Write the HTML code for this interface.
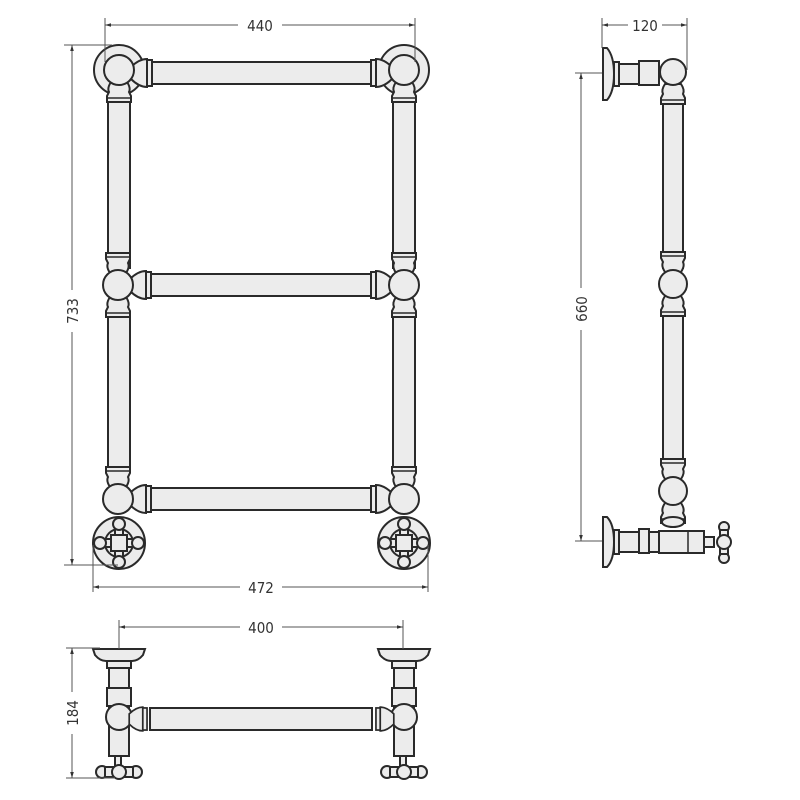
<!DOCTYPE html>
<html><head><meta charset="utf-8"><style>
html,body{margin:0;padding:0;background:#fff}
svg{display:block}
text{font-family:"DejaVu Sans Condensed","Liberation Sans",sans-serif;font-size:15px;fill:#333}
.s{fill:#ececec;stroke:#2a2a2a;stroke-width:2}
.d{fill:none;stroke:#555;stroke-width:1}
</style></head><body>
<svg width="800" height="800" viewBox="0 0 800 800" xmlns="http://www.w3.org/2000/svg">
<defs>
<marker id="a" viewBox="0 0 10 10" refX="10" refY="5" markerWidth="8" markerHeight="6" orient="auto-start-reverse"><path d="M0,2 L10,5 L0,8z" fill="#333"/></marker>
<!-- joint: ball at origin, cone to right -->
<g id="cone">
<path class="s" d="M12,-6 Q20,-14 28,-14 L28,14 Q20,14 12,6z"/>
<rect class="s" x="28" y="-13" width="5" height="26"/>
</g>
<g id="collarT"><path class="s" d="M-8,-12 Q-12,-18 -10,-22 L-12,-26 L-12,-32 L12,-32 L12,-26 L10,-22 Q12,-18 8,-12z"/><line x1="-12" y1="-28" x2="12" y2="-28" stroke="#2a2a2a" stroke-width="1.5"/></g>
<g id="collarB"><use href="#collarT" transform="scale(1,-1)"/></g>
<g id="knob">
<circle class="s" cx="0" cy="0" r="26" stroke-width="2.5"/>
<circle class="s" cx="0" cy="0" r="14"/>
<rect class="s" x="-8" y="-8" width="16" height="16"/>
<rect class="s" x="-4" y="-16" width="8" height="8"/><rect class="s" x="-4" y="8" width="8" height="8"/>
<rect class="s" x="-16" y="-4" width="8" height="8"/><rect class="s" x="8" y="-4" width="8" height="8"/>
<circle class="s" cx="0" cy="-19" r="6"/><circle class="s" cx="0" cy="19" r="6"/>
<circle class="s" cx="-19" cy="0" r="6"/><circle class="s" cx="19" cy="0" r="6"/>
</g>
</defs>

<!-- FRONT VIEW -->
<!-- columns -->
<rect class="s" x="108" y="100" width="22" height="168"/>
<rect class="s" x="108" y="316" width="22" height="155"/>
<rect class="s" x="393" y="100" width="22" height="168"/>
<rect class="s" x="393" y="316" width="22" height="155"/>
<!-- bars -->
<rect class="s" x="150" y="62" width="222" height="22"/>
<rect class="s" x="150" y="274" width="222" height="22"/>
<rect class="s" x="150" y="488" width="222" height="22"/>
<!-- top corners -->
<circle class="s" cx="119" cy="70" r="25" stroke-width="2.5"/>
<circle class="s" cx="404" cy="70" r="25" stroke-width="2.5"/>
<use href="#cone" transform="translate(119,73)"/>
<use href="#cone" transform="translate(404,73) scale(-1,1)"/>
<use href="#collarB" transform="translate(119,70)"/>
<use href="#collarB" transform="translate(404,70)"/>
<circle class="s" cx="119" cy="70" r="15"/>
<circle class="s" cx="404" cy="70" r="15"/>
<!-- middle joints -->
<g transform="translate(118,285)"><use href="#cone"/><use href="#collarT"/><use href="#collarB"/><circle class="s" r="15"/></g>
<g transform="translate(404,285) scale(-1,1)"><use href="#cone"/><use href="#collarT"/><use href="#collarB"/><circle class="s" r="15"/></g>
<!-- bottom -->
<use href="#knob" transform="translate(119,543)"/>
<use href="#knob" transform="translate(404,543)"/>
<g transform="translate(118,499)"><use href="#cone"/><use href="#collarT"/><circle class="s" r="15"/></g>
<g transform="translate(404,499) scale(-1,1)"><use href="#cone"/><use href="#collarT"/><circle class="s" r="15"/></g>

<!-- dims front -->
<line class="d" x1="105" y1="18" x2="105" y2="62"/><line class="d" x1="415" y1="18" x2="415" y2="62"/>
<line class="d" x1="105" y1="25" x2="238" y2="25" marker-start="url(#a)"/><line class="d" x1="282" y1="25" x2="415" y2="25" marker-end="url(#a)"/>
<text x="260" y="31" text-anchor="middle">440</text>
<line class="d" x1="64" y1="45" x2="112" y2="45"/><line class="d" x1="64" y1="565" x2="118" y2="565"/>
<line class="d" x1="72" y1="45" x2="72" y2="290" marker-start="url(#a)"/><line class="d" x1="72" y1="332" x2="72" y2="565" marker-end="url(#a)"/>
<text transform="translate(78,311) rotate(-90)" text-anchor="middle">733</text>
<line class="d" x1="93" y1="545" x2="93" y2="592"/><line class="d" x1="428" y1="545" x2="428" y2="592"/>
<line class="d" x1="93" y1="587" x2="240" y2="587" marker-start="url(#a)"/><line class="d" x1="282" y1="587" x2="428" y2="587" marker-end="url(#a)"/>
<text x="261" y="593" text-anchor="middle">472</text>

<!-- SIDE VIEW -->
<rect class="s" x="663" y="100" width="20" height="168"/>
<rect class="s" x="663" y="314" width="20" height="155"/>
<path class="s" d="M603,48 L603,100 L607,100 Q614,92 614,74 Q614,56 607,48z"/>
<rect class="s" x="614" y="62" width="5" height="24"/>
<rect class="s" x="619" y="64" width="20" height="20"/>
<rect class="s" x="639" y="61" width="20" height="24"/>
<g transform="translate(673,72)"><use href="#collarB"/></g>
<circle class="s" cx="673" cy="72" r="13"/>
<g transform="translate(673,284)"><use href="#collarT"/><use href="#collarB"/><circle class="s" r="14"/></g>
<g transform="translate(673,491)"><use href="#collarT"/><use href="#collarB"/><circle class="s" r="14"/></g>
<path class="s" d="M603,517 L603,567 L607,567 Q614,560 614,542 Q614,524 607,517z"/>
<rect class="s" x="614" y="530" width="5" height="24"/>
<rect class="s" x="619" y="532" width="20" height="20"/>
<rect class="s" x="639" y="529" width="10" height="24"/>
<rect class="s" x="649" y="532" width="10" height="20"/>
<rect class="s" x="659" y="531" width="45" height="22"/>
<line x1="688" y1="531" x2="688" y2="553" stroke="#2a2a2a" stroke-width="1.5"/>
<ellipse class="s" cx="673" cy="522" rx="11" ry="5"/>
<rect class="s" x="704" y="537" width="10" height="10"/>
<circle class="s" cx="724" cy="527" r="5"/><circle class="s" cx="724" cy="558" r="5"/>
<rect class="s" x="720" y="530" width="8" height="24"/>
<circle class="s" cx="724" cy="542" r="7" stroke-width="2.5"/>
<!-- side dims -->
<line class="d" x1="602" y1="18" x2="602" y2="48"/><line class="d" x1="687" y1="18" x2="687" y2="70"/>
<line class="d" x1="602" y1="25" x2="628" y2="25" marker-start="url(#a)"/><line class="d" x1="662" y1="25" x2="687" y2="25" marker-end="url(#a)"/>
<text x="645" y="31" text-anchor="middle">120</text>
<line class="d" x1="575" y1="73" x2="602" y2="73"/><line class="d" x1="575" y1="541" x2="602" y2="541"/>
<line class="d" x1="581" y1="73" x2="581" y2="288" marker-start="url(#a)"/><line class="d" x1="581" y1="330" x2="581" y2="541" marker-end="url(#a)"/>
<text transform="translate(587,309) rotate(-90)" text-anchor="middle">660</text>

<!-- TOP VIEW -->
<g id="tv">
<path class="s" d="M93,649 L145,649 L143,655 Q138,661 132,661 L106,661 Q100,661 95,655z"/>
<rect class="s" x="107" y="661" width="24" height="7"/>
<rect class="s" x="109" y="668" width="20" height="20"/>
<rect class="s" x="107" y="688" width="24" height="18"/>
<rect class="s" x="109" y="706" width="20" height="50"/>
<rect class="s" x="115" y="756" width="6" height="10"/>
<circle class="s" cx="102" cy="772" r="6"/><circle class="s" cx="136" cy="772" r="6"/>
<rect class="s" x="105" y="767" width="28" height="10"/>
<circle class="s" cx="119" cy="772" r="7" stroke-width="2.5"/>
<circle class="s" cx="119" cy="717" r="13"/>
</g>
<use href="#tv" transform="translate(285,0)"/>
<rect class="s" x="150" y="708" width="222" height="22"/>
<use href="#cone" transform="translate(119,719) scale(0.85)"/>
<use href="#cone" transform="translate(404,719) scale(-0.85,0.85)"/>
<!-- top view dims -->
<line class="d" x1="119" y1="620" x2="119" y2="649"/><line class="d" x1="403" y1="620" x2="403" y2="649"/>
<line class="d" x1="119" y1="627" x2="240" y2="627" marker-start="url(#a)"/><line class="d" x1="282" y1="627" x2="403" y2="627" marker-end="url(#a)"/>
<text x="261" y="633" text-anchor="middle">400</text>
<line class="d" x1="66" y1="648" x2="100" y2="648"/><line class="d" x1="66" y1="778" x2="115" y2="778"/>
<line class="d" x1="72" y1="648" x2="72" y2="692" marker-start="url(#a)"/><line class="d" x1="72" y1="734" x2="72" y2="778" marker-end="url(#a)"/>
<text transform="translate(78,713) rotate(-90)" text-anchor="middle">184</text>
</svg>
</body></html>
